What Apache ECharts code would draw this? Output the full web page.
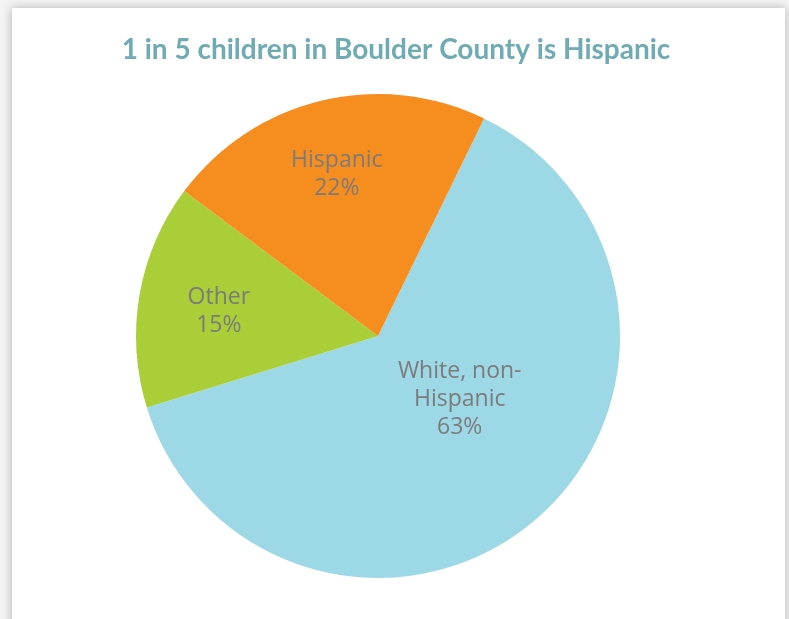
<!DOCTYPE html>
<html>
<head>
<meta charset="utf-8">
<script src="https://cdn.jsdelivr.net/npm/echarts@6/dist/echarts.min.js"></script>
<style>
html,body{margin:0;padding:0;background:#f4f4f4;overflow:hidden;}
#card{position:absolute;left:12px;top:8px;width:773px;height:700px;background:#fff;box-shadow:0 0 10px rgba(0,0,0,0.28);}
#chart{position:absolute;left:0;top:0;width:789px;height:619px;}
</style>
</head>
<body>
<div id="card"></div>
<div id="chart"></div>
<script>
const titleText = '1 in 5 children in Boulder County is Hispanic';
const categories = ['White, non-\nHispanic', 'Other', 'Hispanic'];
const values = [63, 15, 22];
const colors = ['#9DD8E6', '#A9CE38', '#F68D1F'];
const labelShift = [[1, -31], [-37, -3], [-12, -41]];

const chart = echarts.init(document.getElementById('chart'), null, {renderer: 'canvas'});
chart.setOption({
  backgroundColor: 'transparent',
  animation: false,
  title: {
    text: titleText,
    left: 391,
    textAlign: 'center',
    top: 31,
    textStyle: {color: '#6EABB3', fontSize: 28, fontWeight: 'bold', fontFamily: 'Lato'}
  },
  series: [{
    type: 'pie',
    center: [378, 336],
    radius: 242,
    startAngle: 64,
    clockwise: true,
    avoidLabelOverlap: false,
    label: {
      show: true,
      position: 'inside',
      color: '#7B7B7B',
      fontSize: 23,
      lineHeight: 28,
      fontFamily: 'Open Sans',
      formatter: p => p.name + '\n' + p.value + '%'
    },
    labelLine: {show: false},
    labelLayout: function (params) {
      const s = labelShift[params.dataIndex];
      return {dx: s[0], dy: s[1]};
    },
    itemStyle: {borderWidth: 0},
    emphasis: {disabled: true},
    data: categories.map((c, i) => ({name: c, value: values[i], itemStyle: {color: colors[i]}}))
  }]
});
</script>
</body>
</html>
